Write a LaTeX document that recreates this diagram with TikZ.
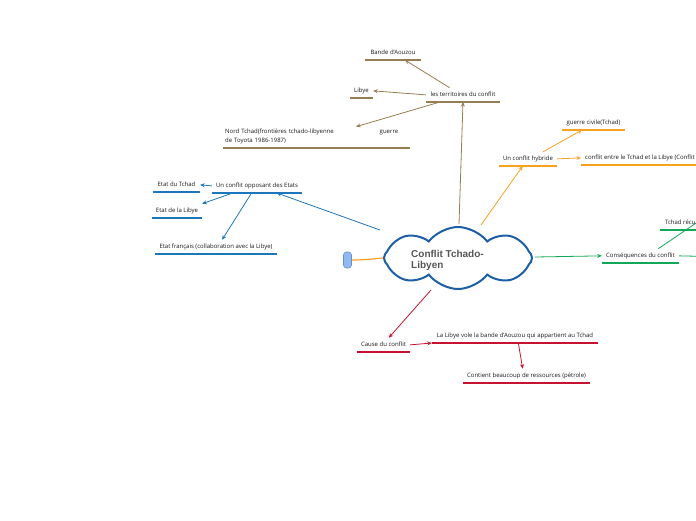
\documentclass[tikz,border=0pt]{standalone}
\usepackage{fontspec}
\setmainfont{Open Sans}
\newfontfamily\titlefont{Liberation Sans}
\usetikzlibrary{shapes.symbols,arrows.meta,calc}
\definecolor{brn}{RGB}{150,125,82}
\definecolor{bl}{RGB}{28,118,188}
\definecolor{org}{RGB}{248,161,31}
\definecolor{grn}{RGB}{18,168,88}
\definecolor{rd}{RGB}{200,18,50}
\definecolor{cloudblue}{RGB}{30,94,166}
\definecolor{titlegray}{RGB}{85,85,85}
\definecolor{pillfill}{RGB}{147,185,240}
\definecolor{pilldraw}{RGB}{95,145,215}
\begin{document}
\begin{tikzpicture}[x=1pt,y=-1pt,
  topic/.style={anchor=south, minimum width=#1, inner xsep=0pt, inner ysep=4.2pt,
    text height=4.3pt, text depth=1.2pt, font=\fontsize{6}{7}\selectfont, text=black!90},
  ul/.style={line width=1.3pt},
  conn/.style={line width=0.8pt, -{Stealth[length=4.5pt,width=4pt]}},
  plain/.style={line width=0.8pt}]
\useasboundingbox (0,0) rectangle (696,520);
\clip (0,0) rectangle (696,520);

% root
\node[cloud, draw=cloudblue, line width=2pt, fill=white, cloud puffs=8, cloud puff arc=105,
  aspect=2.4, minimum width=148pt, minimum height=62pt, inner sep=0pt, shape border rotate=8] (root) at (458,258) {};
\node[anchor=west, align=left, inner sep=0pt, text=titlegray,
  font=\titlefont\bfseries\fontsize{10}{11}\selectfont] (rootlabel) at (411,260) {Conflit Tchado-\\Libyen};
\node[draw=pilldraw, fill=pillfill, line width=0.6pt, rounded corners=3pt, minimum width=8pt,
  minimum height=16pt, inner sep=0pt] (pill) at (347.5,260) {};
\draw[org, line width=1.2pt] (root.west) to[out=185,in=0] (pill.east);

\coordinate (rN) at ($(root.center)+(1,-34)$);
\coordinate (rNE) at ($(root.center)+(23,-33)$);
\coordinate (rNW) at ($(root.center)+(-78,-28)$);
\coordinate (rE) at ($(root.center)+(77,-1)$);
\coordinate (rS) at ($(root.center)+(-27,32)$);

% brown branch
\node[topic=74pt] (terr) at (463,102) {les territoires du conflit};
\node[topic=56pt] (bande) at (393,60) {Bande d'Aouzou};
\node[topic=23pt] (libye) at (361.5,98) {Libye};
\node[anchor=south west, inner xsep=2pt, inner ysep=4.2pt, text width=183pt, align=left,
  font=\fontsize{6}{8.5}\selectfont, text=black!90] (nord) at (223,148)
  {Nord Tchad(frontières tchado-libyenne\hfill guerre\kern10pt\null\\de Toyota 1986-1987)};
\foreach \n in {terr,bande,libye,nord} \draw[brn, ul] (\n.south west) -- (\n.south east);
\draw[brn, conn] (rN) -- ($(terr.south west)!0.5!(terr.south east)$);
\draw[brn, conn] ($(terr.north west)!0.32!(terr.north east)$) -- ($(bande.south west)!0.71!(bande.south east)$);
\draw[brn, conn] (terr.west) -- (libye.east);
\draw[brn, conn] ($(terr.south west)!0.19!(terr.south east)$) -- ($(nord.north west)!0.71!(nord.north east)+(0,2)$);

% blue branch
\node[topic=90pt] (etats) at (257,193) {Un conflit opposant des Etats};
\node[topic=47pt] (tchad) at (176.5,192) {Etat du Tchad};
\node[topic=50pt] (elibye) at (177,218) {Etat de la Libye};
\node[topic=122pt] (efr) at (216,254) {Etat français (collaboration avec la Libye)};
\foreach \n in {etats,tchad,elibye,efr} \draw[bl, ul] (\n.south west) -- (\n.south east);
\draw[bl, conn] (rNW) -- ($(etats.south west)!0.72!(etats.south east)$);
\draw[bl, conn] (etats.west) -- (tchad.east);
\draw[bl, conn] ($(etats.south west)!0.23!(etats.south east)$) -- (elibye.north east);
\draw[bl, conn] ($(etats.south west)!0.44!(etats.south east)$) -- ($(efr.north west)!0.55!(efr.north east)$);

% orange branch
\node[topic=58pt] (hyb) at (528,166) {Un conflit hybride};
\node[topic=63pt] (civ) at (593.5,130) {guerre civile(Tchad)};
\node[anchor=south west, inner xsep=4pt, inner ysep=4.2pt, text height=4.3pt, text depth=1.2pt,
  font=\fontsize{6}{7}\selectfont, text=black!90] (entre) at (581,165) {conflit entre le Tchad et la Libye (Conflit};
\foreach \n in {hyb,civ} \draw[org, ul] (\n.south west) -- (\n.south east);
\draw[org, ul] (entre.south west) -- ++(130,0);
\draw[org, conn] (rNE) -- ($(hyb.south west)!0.41!(hyb.south east)$);
\draw[org, conn] ($(hyb.north west)!0.76!(hyb.north east)$) -- ($(civ.south west)!0.32!(civ.south east)$);
\draw[org, conn] (hyb.east) -- (entre.west);

% green branch
\node[topic=77pt] (cons) at (640.5,263) {Conséquences du conflit};
\node[anchor=south west, inner xsep=5pt, inner ysep=4.2pt, text height=4.3pt, text depth=1.2pt,
  font=\fontsize{6}{7}\selectfont, text=black!90] (recu) at (660,230) {Tchad récu};
\draw[grn, ul] (cons.south west) -- (cons.south east);
\draw[grn, ul] (recu.south west) -- ++(60,0);
\coordinate (recuend) at (730,200);
\coordinate (consnext) at (730,257);
\draw[grn, conn] (rE) -- (cons.west);
\draw[grn, plain] ($(cons.north west)!0.73!(cons.north east)$) -- (recuend);
\draw[grn, plain] (cons.east) -- (consnext);

% red branch
\node[topic=53pt] (cause) at (383.5,352) {Cause du conflit};
\node[topic=166pt] (vole) at (515,343) {La Libye vole la bande d'Aouzou qui appartient au Tchad};
\node[topic=127pt] (cont) at (526.5,383) {Contient beaucoup de ressources (pétrole)};
\foreach \n in {cause,vole,cont} \draw[rd, ul] (\n.south west) -- (\n.south east);
\draw[rd, conn] (rS) -- ($(cause.north west)!0.6!(cause.north east)$);
\draw[rd, conn] (cause.east) -- (vole.south west);
\draw[rd, conn] ($(vole.south west)!0.52!(vole.south east)$) -- ($(cont.north west)!0.47!(cont.north east)$);
\end{tikzpicture}
\end{document}
